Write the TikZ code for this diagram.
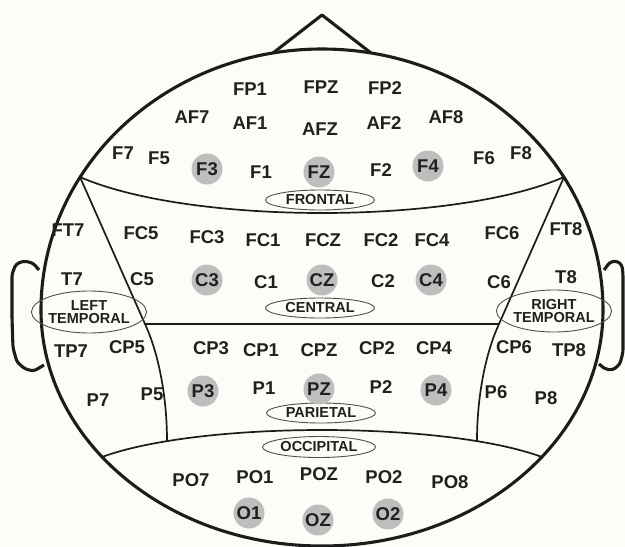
\documentclass[tikz,border=0pt]{standalone}
\usepackage{fontspec}
\setmainfont{Liberation Sans}
\usetikzlibrary{shapes.geometric}
\definecolor{eegline}{RGB}{28,28,28}
\definecolor{eegtext}{RGB}{32,32,32}
\definecolor{eegdot}{RGB}{190,190,190}
\definecolor{eegring}{RGB}{80,80,80}
\definecolor{eegpaper}{RGB}{253,253,247}

\begin{document}
\begin{tikzpicture}[x=1pt, y=-1pt,
el/.style={font=\fontsize{18.5}{18}\selectfont\bfseries, text=eegtext, inner sep=0pt},
hl/.style={el, circle, fill=eegdot, minimum size=31pt},
lobe/.style={ellipse, draw=eegring, line width=0.9pt, inner sep=0pt,
minimum width=109pt, minimum height=20pt, align=center,
font=\fontsize{14.5}{13}\selectfont\bfseries, text=eegtext},
head/.style={draw=eegline, line width=3.1pt, line join=round},
border/.style={draw=eegline, line width=1.7pt}
]

\fill[eegpaper] (0,0) rectangle (625,547);
\useasboundingbox (0,0) rectangle (625,547);

% head, nose and ears
\draw[head] (41,310) arc[start angle=180, end angle=360, x radius=281, y radius=261]
  arc[start angle=0, end angle=180, x radius=281, y radius=236] -- cycle;
\draw[head] (273,53) -- (322,15) -- (371,53);
\draw[head, rounded corners=3pt] (39,270) -- (33,263) -- (24,261) -- (16,264) -- (12,274)
  -- (12,318) -- (13,348) -- (17,362) -- (25,369) -- (34,371) -- (44,365);
\draw[head, rounded corners=3pt] (604,270) -- (610,262) -- (617,261) -- (622,265) -- (623,274)
  -- (623,318) -- (623,352) -- (620,364) -- (613,370) -- (605,369) -- (599,364);

% lobe borders
\coordinate (fl) at (80,177);
\coordinate (fr) at (564,177);
\coordinate (cl) at (145,324);
\coordinate (cr) at (499,324);
\coordinate (ol) at (167,441);
\coordinate (or) at (477,441);
\coordinate (occl) at (102,457);
\coordinate (occr) at (542,457);

\draw[border] (fl) .. controls (190,225) and (454,225) .. (fr);
\draw[border] (fl) -- (cl) .. controls (158,352) and (167,395) .. (ol);
\draw[border] (fr) -- (cr) .. controls (486,352) and (477,395) .. (or);
\draw[border] (cl) -- (cr);
\draw[border] (occl) .. controls (200,421) and (444,421) .. (occr);

% lobe names
\node[lobe] (frontal) at (320,200) {FRONTAL};
\node[lobe] (central) at (320,308) {CENTRAL};
\node[lobe] (parietal) at (321,413) {PARIETAL};
\node[lobe, minimum width=113pt, minimum height=21pt] (occipital) at (319,447) {OCCIPITAL};
\node[lobe, minimum width=95pt, minimum height=42pt] (ltemp) at (89,312) {LEFT\\TEMPORAL};
\node[lobe, minimum width=95pt, minimum height=42pt] (rtemp) at (554,311) {RIGHT\\TEMPORAL};

% electrodes
\node[el] (fp1) at (250,89) {FP1};
\node[el] (fpz) at (321,87) {FPZ};
\node[el] (fp2) at (385,88) {FP2};

\node[el] (af7) at (192,117) {AF7};
\node[el] (af1) at (250,123) {AF1};
\node[el] (afz) at (320,129) {AFZ};
\node[el] (af2) at (384,123) {AF2};
\node[el] (af8) at (446,117) {AF8};

\node[el] (f7) at (123,153) {F7};
\node[el] (f5) at (159,158) {F5};
\node[hl] (f3) at (207,169) {F3};
\node[el] (f1) at (261,172) {F1};
\node[hl] (fz) at (319,172) {FZ};
\node[el] (f2) at (381,170) {F2};
\node[hl] (f4) at (428,166) {F4};
\node[el] (f6) at (484,158) {F6};
\node[el] (f8) at (521,153) {F8};

\node[el] (ft7) at (68,230) {FT7};
\node[el] (fc5) at (141,233) {FC5};
\node[el] (fc3) at (207,237) {FC3};
\node[el] (fc1) at (263,240) {FC1};
\node[el] (fcz) at (323,240) {FCZ};
\node[el] (fc2) at (381,240) {FC2};
\node[el] (fc4) at (432,240) {FC4};
\node[el] (fc6) at (502,233) {FC6};
\node[el] (ft8) at (566,229) {FT8};

\node[el] (t7) at (72,279) {T7};
\node[el] (c5) at (142,279) {C5};
\node[hl] (c3) at (207,280) {C3};
\node[el] (c1) at (266,282) {C1};
\node[hl] (cz) at (322,280) {CZ};
\node[el] (c2) at (383,281) {C2};
\node[hl] (c4) at (431,280) {C4};
\node[el] (c6) at (499,282) {C6};
\node[el] (t8) at (566,277) {T8};

\node[el] (tp7) at (71,351) {TP7};
\node[el] (cp5) at (127,347) {CP5};
\node[el] (cp3) at (211,348) {CP3};
\node[el] (cp1) at (261,350) {CP1};
\node[el] (cpz) at (319,350) {CPZ};
\node[el] (cp2) at (377,348) {CP2};
\node[el] (cp4) at (434,348) {CP4};
\node[el] (cp6) at (514,347) {CP6};
\node[el] (tp8) at (569,350) {TP8};

\node[el] (p7) at (98,400) {P7};
\node[el] (p5) at (152,394) {P5};
\node[hl] (p3) at (203,391) {P3};
\node[el] (p1) at (264,388) {P1};
\node[hl] (pz) at (319,389) {PZ};
\node[el] (p2) at (381,387) {P2};
\node[hl] (p4) at (436,390) {P4};
\node[el] (p6) at (496,392) {P6};
\node[el] (p8) at (546,398) {P8};

\node[el] (po7) at (191,480) {PO7};
\node[el] (po1) at (255,477) {PO1};
\node[el] (poz) at (319,474) {POZ};
\node[el] (po2) at (384,477) {PO2};
\node[el] (po8) at (450,482) {PO8};

\node[hl] (o1) at (249,513) {O1};
\node[hl] (oz) at (318,520) {OZ};
\node[hl] (o2) at (388,514) {O2};

\end{tikzpicture}
\end{document}
